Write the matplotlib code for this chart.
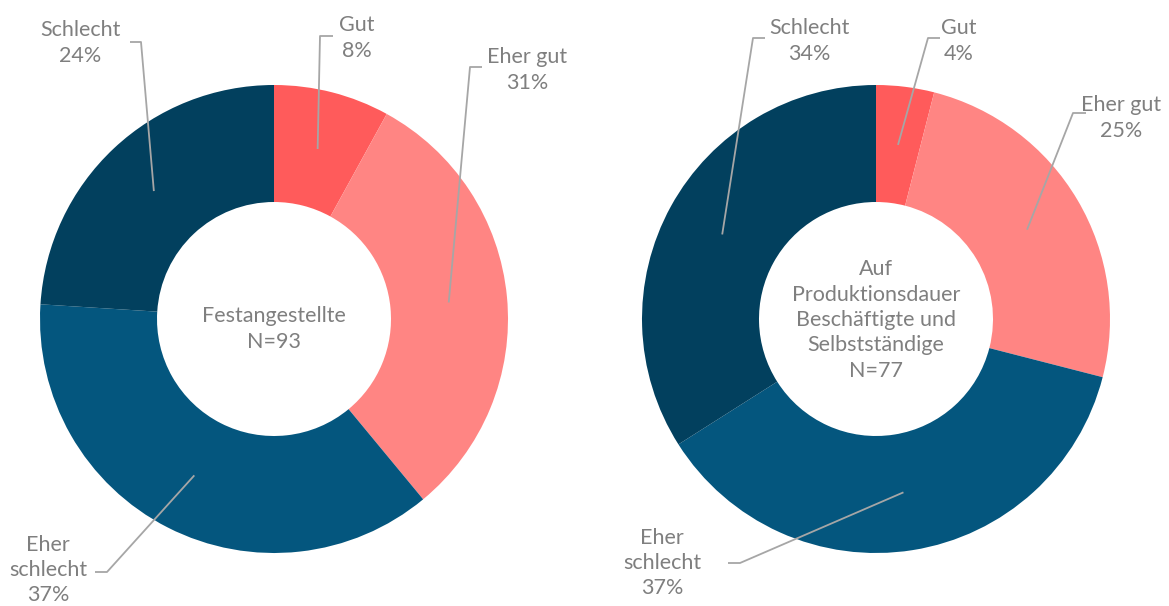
import numpy as np
import matplotlib
matplotlib.use("Agg")
import matplotlib.pyplot as plt


# data
categories = ["Gut", "Eher gut", "Eher schlecht", "Schlecht"]
label_texts = ["Gut", "Eher gut", "Eher\nschlecht", "Schlecht"]
festangestellte = [8, 31, 37, 24]
produktionsdauer = [4, 25, 37, 34]
center_left = "Festangestellte\nN=93"
center_right = "Auf\nProduktionsdauer\nBeschäftigte und\nSelbstständige\nN=77"

colors = ["#FF5B5B", "#FF8583", "#04567E", "#02405E"]
TEXT_COLOR = "#7F7F7F"
LINE_COLOR = "#A6A6A6"

W, H = 1169, 606
R = 234
FS = 15.5
LS = 1.34

plt.rcParams["font.family"] = ["Lato", "DejaVu Sans"]


def py(y):
    # pixel row (from top) -> data y
    return H - y


def draw_donut(ax, values, cx, cy, center_text, center_y, label_layout):
    ax.pie(
        values,
        colors=colors,
        startangle=90,
        counterclock=False,
        radius=R,
        center=(cx, py(cy)),
        wedgeprops=dict(width=R / 2, edgecolor="none", linewidth=0),
    )
    ax.text(cx, py(center_y), center_text, ha="center", va="center",
            fontsize=FS, color=TEXT_COLOR, linespacing=LS)

    total = float(sum(values))
    start = 0.0
    for val, txt, (tx, ty, ex, ey, hx) in zip(values, label_texts, label_layout):
        mid = (start + val / 2) / total * 2 * np.pi
        start += val
        ax_x = cx + 0.75 * R * np.sin(mid)
        ax_y = py(cy) + 0.75 * R * np.cos(mid)
        ax.plot([ax_x, ex, hx], [ax_y, py(ey), py(ey)],
                color=LINE_COLOR, lw=1.3, solid_capstyle="butt")
        ax.text(tx, py(ty), f"{txt}\n{int(round(val))}%", ha="center", va="center",
                fontsize=FS, color=TEXT_COLOR, linespacing=LS)


fig = plt.figure(figsize=(W / 100, H / 100), dpi=100)
ax = fig.add_axes([0, 0, 1, 1])

# label centre (x, y), elbow (x, y), end of short horizontal (x), in pixels
left_layout = [
    (357, 38, 320, 36, 333),
    (527, 70, 470, 67, 482),
    (48, 570, 107, 572, 95),
    (80, 43, 141, 42, 130),
]
right_layout = [
    (959, 41, 928, 38, 940),
    (1121, 118, 1073, 113, 1086),
    (662, 563, 740, 563, 728),
    (809, 41, 753, 38, 765),
]

draw_donut(ax, festangestellte, 274, 319, center_left, 329, left_layout)
draw_donut(ax, produktionsdauer, 876, 319, center_right, 320, right_layout)

ax.set_xlim(0, W)
ax.set_ylim(0, H)
ax.set_aspect("equal")
ax.axis("off")

fig.savefig("out.png", dpi=100, facecolor="white")
plt.close(fig)
